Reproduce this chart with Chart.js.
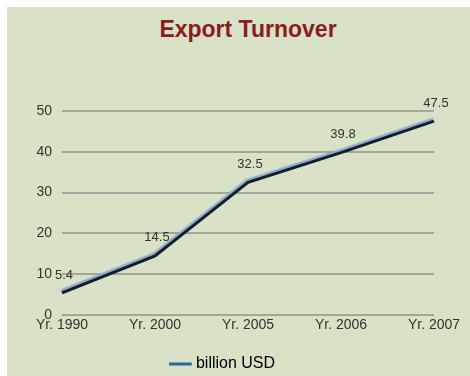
<!DOCTYPE html>
<html>
<head>
<meta charset="utf-8">
<script src="https://cdn.jsdelivr.net/npm/chart.js@4/dist/chart.umd.min.js"></script>
<style>
  html, body { margin: 0; padding: 0; background: #ffffff; }
  #panel {
    position: absolute; left: 7px; top: 7px; width: 463px; height: 369px;
    background: #d9e1c6;
  }
  #title {
    position: absolute; left: 0; top: 9px; width: 482px; text-align: center;
    font: bold 23px "Liberation Sans", Arial, sans-serif; color: #8a1c1f;
  }
  canvas { position: absolute; left: 0; top: 0; }
</style>
</head>
<body>
<div id="panel">
  <div id="title">Export Turnover</div>
  <canvas id="chart" width="463" height="369"></canvas>
</div>
<script>
/* ─── Datos ─────────────────────────────── */
const categories = ["Yr. 1990", "Yr. 2000", "Yr. 2005", "Yr. 2006", "Yr. 2007"];
const exportValues = [5.4, 14.5, 32.5, 39.8, 47.5];
const yTicks = [0, 10, 20, 30, 40, 50];
const seriesName = "billion USD";

const FONT = "'Liberation Sans', Arial, sans-serif";

/* ─── Sombra de la línea (efecto tubo) ───── */
const tubeLine = {
  id: "tubeLine",
  beforeDatasetDraw(chart) {
    const ctx = chart.ctx;
    ctx.save();
    ctx.shadowColor = "#88abcf";
    ctx.shadowOffsetX = -1;
    ctx.shadowOffsetY = -2;
    ctx.shadowBlur = 1;
  },
  afterDatasetDraw(chart) {
    chart.ctx.restore();
  },
};

/* ─── Etiquetas de valor ─────────────────── */
const valueLabels = {
  id: "valueLabels",
  afterDatasetsDraw(chart) {
    const ctx = chart.ctx;
    const meta = chart.getDatasetMeta(0);
    ctx.save();
    ctx.font = "13px " + FONT;
    ctx.fillStyle = "#333333";
    ctx.textAlign = "center";
    ctx.textBaseline = "middle";
    meta.data.forEach((pt, i) => {
      ctx.fillText(String(exportValues[i]), pt.x + 2, pt.y - 18);
    });
    ctx.restore();
  },
};

new Chart(document.getElementById("chart"), {
  type: "line",
  data: {
    labels: categories,
    datasets: [
      {
        label: seriesName,
        data: exportValues,
        borderColor: "#161d2a",
        backgroundColor: "#2b659b",
        borderWidth: 3,
        pointRadius: 0,
        tension: 0,
      },
    ],
  },
  options: {
    responsive: false,
    animation: false,
    layout: { padding: { left: 7, right: 36, top: 104, bottom: -6 } },
    scales: {
      x: {
        offset: false,
        grid: { display: false, drawTicks: false },
        border: { display: false },
        ticks: {
          color: "#333333",
          font: { family: FONT, size: 14 },
          padding: 2,
          maxRotation: 0,
          autoSkip: false,
        },
        afterFit(scale) { scale.height = 31; },
      },
      y: {
        min: 0,
        max: 50,
        afterBuildTicks(scale) { scale.ticks = yTicks.map((v) => ({ value: v })); },
        grid: { color: "#a2a697", lineWidth: 2, drawTicks: false },
        border: { display: false },
        ticks: {
          color: "#333333",
          font: { family: FONT, size: 14 },
          padding: 10,
        },
        afterFit(scale) { scale.width = 48; },
      },
    },
    plugins: {
      title: { display: false },
      tooltip: { enabled: false },
      legend: {
        position: "bottom",
        labels: {
          color: "#333333",
          font: { family: FONT, size: 16 },
          usePointStyle: true,
          pointStyle: "line",
          boxWidth: 15,
          padding: 10,
          generateLabels(chart) {
            return [{
              text: seriesName,
              strokeStyle: "#2b659b",
              fillStyle: "#2b659b",
              lineWidth: 3,
              pointStyle: "line",
              datasetIndex: 0,
            }];
          },
        },
      },
    },
  },
  plugins: [tubeLine, valueLabels],
});
</script>
</body>
</html>
